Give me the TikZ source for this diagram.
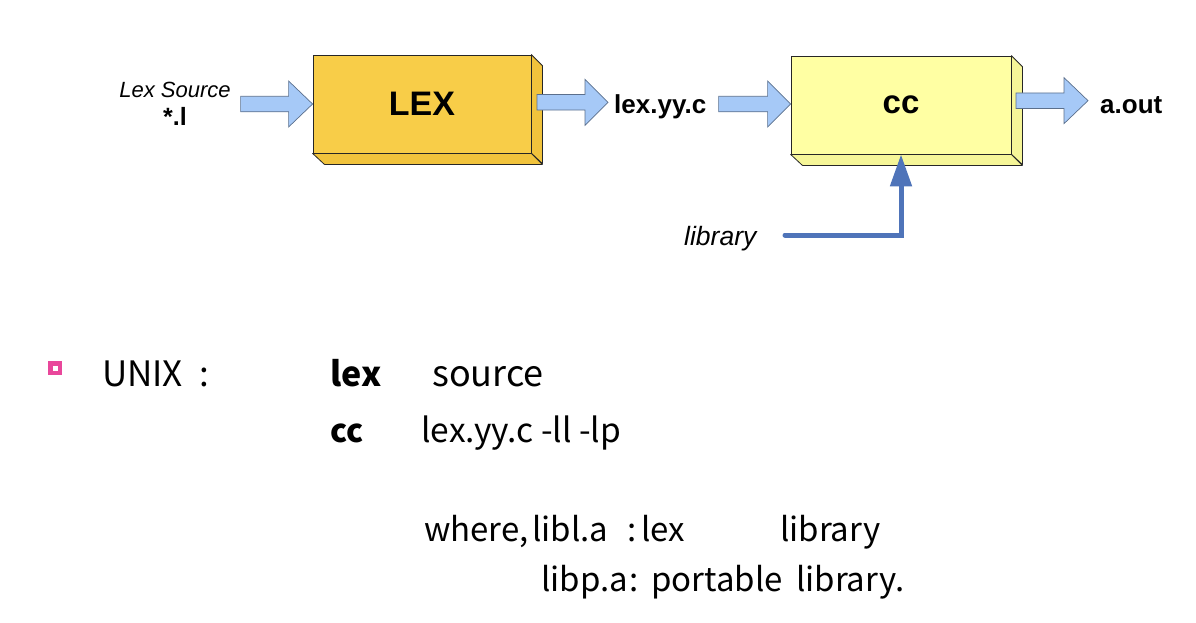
\documentclass[tikz,border=0pt]{standalone}
\usepackage{fontspec}
\setmainfont{Liberation Sans}
\newfontfamily\bodyfont{Noto Sans CJK KR}
\usetikzlibrary{arrows.meta,calc}
\definecolor{lexgold}{HTML}{F8CD48}
\definecolor{lexside}{HTML}{F1C33C}
\definecolor{ccfront}{HTML}{FFFFA3}
\definecolor{ccside}{HTML}{F6F698}
\definecolor{arrfill}{HTML}{A6C9F7}
\definecolor{arrline}{HTML}{5B6F8C}
\definecolor{libblue}{HTML}{4F74B9}
\definecolor{bulletpink}{HTML}{E9479B}
\begin{document}
\begin{tikzpicture}[x=1pt,y=-1pt,
  front/.style={draw=black!85, line width=0.8pt, minimum width=218pt, minimum height=98pt, inner sep=0pt},
  sideface/.style={draw=black!85, line width=0.8pt, line join=round},
  barrow/.style={fill=arrfill, draw=arrline, line width=0.7pt, line join=miter},
  lbl/.style={inner sep=0pt, font=\fontsize{26}{30}\selectfont\bfseries},
  ital/.style={inner sep=0pt, font=\fontsize{22}{26}\selectfont\itshape},
  body/.style={inner sep=0pt, anchor=base west, font=\bodyfont\fontsize{33}{38}\selectfont},
  bodyb/.style={body, font=\bodyfont\bfseries\fontsize{32}{38}\selectfont},
  libarrow/.style={draw=libblue, line width=5pt, line cap=round, -{Triangle[width=21pt,length=32pt]}}
]
\useasboundingbox (0,0) rectangle (1196,622);

% ---- LEX box ----
\node[front, fill=lexgold, font=\fontsize{34}{40}\selectfont\bfseries] (lex) at (422,104) {LEX};
\draw[sideface, fill=lexside] (lex.north east) -- ++(11,11) -- ++(0,98) -- (lex.south east) -- cycle;
\draw[sideface, fill=lexside] (lex.south west) -- (lex.south east) -- ++(11,11) -- ++(-218,0) -- cycle;

% ---- cc box ----
\node[front, minimum width=220pt, fill=ccfront, font=\fontsize{33}{40}\selectfont\bfseries] (cc) at (901,105) {cc};
\draw[sideface, fill=ccside] (cc.north east) -- ++(11,11) -- ++(0,98) -- (cc.south east) -- cycle;
\draw[sideface, fill=ccside] (cc.south west) -- (cc.south east) -- ++(11,11) -- ++(-220,0) -- cycle;

% ---- labels ----
\node[ital, anchor=base] (src) at (175,97) {Lex Source};
\node[lbl, anchor=base, font=\fontsize{25}{28}\selectfont\bfseries] (star) at (175,125) {*.l};
\node[lbl, anchor=base west] (yyc) at (614,113) {lex.yy.c};
\node[lbl, anchor=base west] (aout) at (1100,113) {a.out};
\node[inner sep=0pt, anchor=base west, font=\fontsize{26.5}{30}\selectfont\itshape] (lib) at (684,245) {library};

% ---- block arrows ----
\draw[barrow] (lex.west) -- ++(-24,-23) -- ++(0,15.25) -- ++(-48,0) -- ++(0,15.5) -- ++(48,0) -- ++(0,15.25) -- cycle;
\draw[barrow] ($(yyc.west)+(-6,-4)$) -- ++(-23,-23) -- ++(0,15.25) -- ++(-48,0) -- ++(0,15.5) -- ++(48,0) -- ++(0,15.25) -- cycle;
\draw[barrow] (cc.west |- lex.west) -- ++(-23,-23) -- ++(0,15.25) -- ++(-49,0) -- ++(0,15.5) -- ++(49,0) -- ++(0,15.25) -- cycle;
\draw[barrow] ($(aout.west)+(-12,-4)$) -- ++(-24,-23) -- ++(0,15.25) -- ++(-48,0) -- ++(0,15.5) -- ++(48,0) -- ++(0,15.25) -- cycle;

% ---- library arrow ----
\coordinate (libstart) at (785,235);
\draw[libarrow] (libstart) -- (cc.south |- libstart) -- (cc.south);

% ---- bullet ----
\fill[bulletpink] (48,361) rectangle (62,375);
\fill[white] (53,366) rectangle (57.5,370.5);

% ---- text ----
\node[body, font=\bodyfont\fontsize{35}{40}\selectfont] (unix) at (102,386) {UNIX};
\node[body, font=\bodyfont\fontsize{35}{40}\selectfont] (ucol) at (199,386) {:};
\node[bodyb, font=\bodyfont\bfseries\fontsize{34}{40}\selectfont] (lexcmd) at (330,386) {lex};
\node[body, font=\bodyfont\fontsize{36}{42}\selectfont] (source) at (432,386) {source};
\node[bodyb] (cccmd) at (330,442) {cc};
\node[body, font=\bodyfont\fontsize{33.5}{40}\selectfont] (ccargs) at (421,442) {lex.yy.c -ll -lp};

\node[body] (where) at (424,541) {where,};
\node[body] (libla) at (532,541) {libl.a};
\node[body] (col1) at (627,541) {:};
\node[body] (lexw) at (641,541) {lex};
\node[body] (libw1) at (780,541) {library};

\node[body] (libpa) at (541,591) {libp.a};
\node[body] (col2) at (629,591) {:};
\node[body] (port) at (651,591) {portable};
\node[body] (libw2) at (796,591) {library.};
\end{tikzpicture}
\end{document}
